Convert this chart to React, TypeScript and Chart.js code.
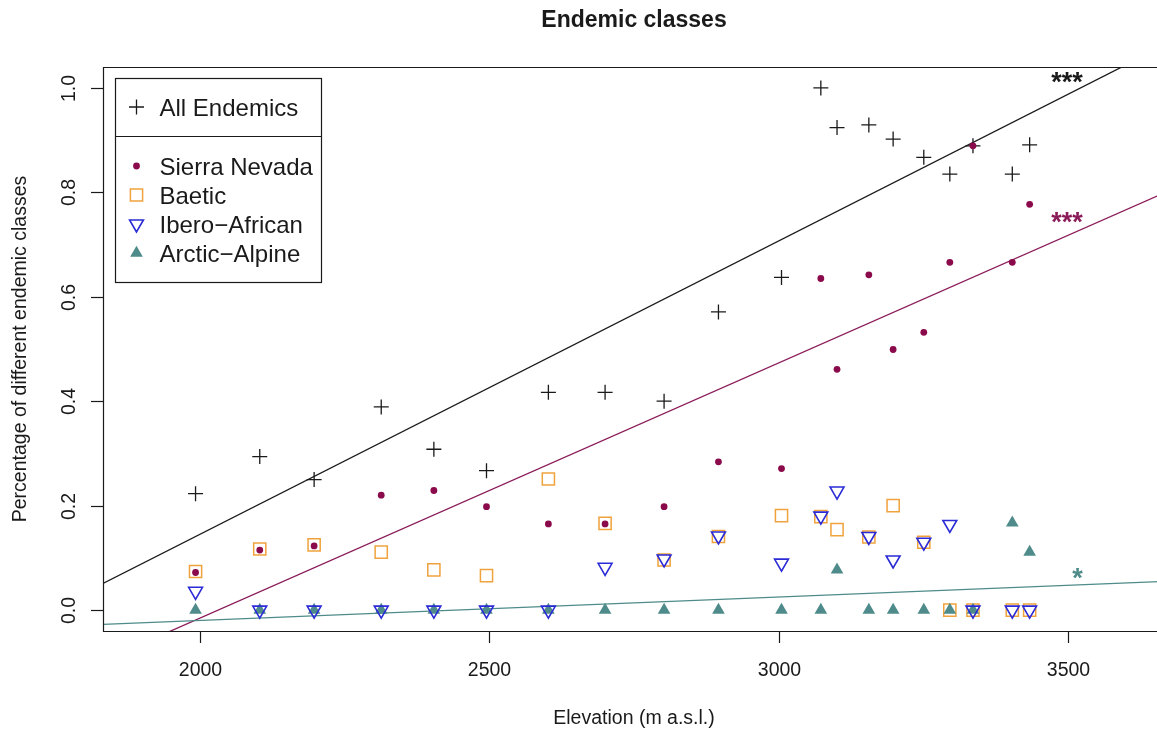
import React, { useEffect, useRef } from "react";
import { Chart, registerables } from "chart.js";

Chart.register(...registerables);

// ---- data ----
const elevation = [1992, 2103, 2197, 2313, 2404, 2495, 2602, 2700, 2802, 2896, 3005, 3073, 3101, 3156, 3198, 3251, 3296, 3336, 3404, 3434];
const allEndemics = [0.223, 0.294, 0.25, 0.389, 0.308, 0.267, 0.417, 0.417, 0.4, 0.571, 0.637, 1.0, 0.924, 0.929, 0.902, 0.867, 0.835, 0.889, 0.835, 0.891];
const sierraNevada = [0.072, 0.115, 0.123, 0.22, 0.229, 0.198, 0.165, 0.165, 0.198, 0.284, 0.271, 0.635, 0.461, 0.642, 0.499, 0.532, 0.666, 0.889, 0.666, 0.777];
const baetic = [0.074, 0.117, 0.125, 0.111, 0.077, 0.066, 0.251, 0.166, 0.096, 0.141, 0.181, 0.179, 0.154, 0.14, 0.2, 0.13, 0, 0, 0, 0];
const iberoAfrican = [0.036, 0, 0, 0, 0, 0, 0, 0.082, 0.098, 0.142, 0.09, 0.18, 0.228, 0.141, 0.096, 0.13, 0.164, 0, 0, 0];
const arcticAlpine = [0, 0, 0, 0, 0, 0, 0, 0, 0, 0, 0, 0, 0.077, 0, 0, 0, 0, 0, 0.167, 0.111];

// regression line end points
const fitX = [1832, 3668];
const fitAll = [0.0512, 1.0819];
const fitSierra = [-0.0972, 0.7997];
const fitArctic = [-0.0274, 0.0549];

// axes
const xRange = [1832, 3668];
const yRange = [-0.04, 1.04];
const xTicks = [2000, 2500, 3000, 3500];
const xTickLabels = ["2000", "2500", "3000", "3500"];
const yTicks = [0, 0.2, 0.4, 0.6, 0.8, 1.0];
const yTickLabels = ["0.0", "0.2", "0.4", "0.6", "0.8", "1.0"];

// significance labels
const sigX = 3526;
const sigY = [1.018, 0.75, 0.0686];
const sigText = ["***", "***", "*"];

const seriesNames = ["All Endemics", "Sierra Nevada", "Baetic", "Ibero\u2212African", "Arctic\u2212Alpine"];

const C_BLACK = "#1a1a1a";
const C_SIERRA = "#8B0A4B";
const C_SIERRA_LINE = "#8B1C5A";
const C_BAETIC = "#F0A23C";
const C_IBERO = "#2A2AD6";
const C_ARCTIC = "#4E8B8A";
const FONT = "'Liberation Sans', Arial, Helvetica, sans-serif";

const pts = (ys: number[]) => ys.map((y, i) => ({ x: elevation[i], y }));
const linePts = (ys: number[]) => ys.map((y, i) => ({ x: fitX[i], y }));

function drawMarker(ctx: CanvasRenderingContext2D, kind: string, x: number, y: number) {
  ctx.save();
  ctx.beginPath();
  if (kind === "cross") {
    const r = 7.5;
    ctx.moveTo(x - r, y); ctx.lineTo(x + r, y);
    ctx.moveTo(x, y - r); ctx.lineTo(x, y + r);
    ctx.strokeStyle = C_BLACK; ctx.lineWidth = 1.3; ctx.stroke();
  } else if (kind === "dot") {
    ctx.arc(x, y, 3.4, 0, Math.PI * 2);
    ctx.fillStyle = C_SIERRA; ctx.fill();
  } else if (kind === "square") {
    const s = 6.1;
    ctx.rect(x - s, y - s, 2 * s, 2 * s);
    ctx.strokeStyle = C_BAETIC; ctx.lineWidth = 1.5; ctx.stroke();
  } else if (kind === "down") {
    const r = 8;
    for (let k = 0; k < 3; k++) {
      const a = Math.PI + k * (2 * Math.PI / 3);
      const px = x + Math.sin(a) * r, py = y - Math.cos(a) * r;
      if (k === 0) ctx.moveTo(px, py); else ctx.lineTo(px, py);
    }
    ctx.closePath();
    ctx.strokeStyle = C_IBERO; ctx.lineWidth = 1.6; ctx.stroke();
  } else if (kind === "up") {
    const r = 7.3;
    for (let k = 0; k < 3; k++) {
      const a = k * (2 * Math.PI / 3);
      const px = x + Math.sin(a) * r, py = y - Math.cos(a) * r;
      if (k === 0) ctx.moveTo(px, py); else ctx.lineTo(px, py);
    }
    ctx.closePath();
    ctx.fillStyle = C_ARCTIC; ctx.fill();
  }
  ctx.restore();
}

const rPlotPlugin = {
  id: "rPlot",
  afterDraw(chart: any) {
    const ctx: CanvasRenderingContext2D = chart.ctx;
    const { left, right, top, bottom } = chart.chartArea;
    const xs = chart.scales.x;
    const ys = chart.scales.y;
    ctx.save();
    // frame
    ctx.strokeStyle = C_BLACK;
    ctx.lineWidth = 1.2;
    ctx.beginPath();
    ctx.rect(Math.round(left) + 0.5, Math.round(top) + 0.5, Math.round(right - left), Math.round(bottom - top));
    ctx.stroke();

    // x ticks
    ctx.fillStyle = C_BLACK;
    ctx.font = `19.5px ${FONT}`;
    ctx.textAlign = "center";
    ctx.textBaseline = "alphabetic";
    xTicks.forEach((v, i) => {
      const px = Math.round(xs.getPixelForValue(v)) + 0.5;
      ctx.beginPath();
      ctx.moveTo(px, bottom);
      ctx.lineTo(px, bottom + 12);
      ctx.stroke();
      ctx.fillText(xTickLabels[i], px, 676);
    });
    // y ticks
    yTicks.forEach((v, i) => {
      const py = Math.round(ys.getPixelForValue(v)) + 0.5;
      ctx.beginPath();
      ctx.moveTo(left, py);
      ctx.lineTo(left - 12, py);
      ctx.stroke();
      ctx.save();
      ctx.translate(75, py);
      ctx.rotate(-Math.PI / 2);
      ctx.fillText(yTickLabels[i], 0, 0);
      ctx.restore();
    });

    // axis titles
    ctx.fillText("Elevation (m a.s.l.)", (left + right) / 2, 724);
    ctx.save();
    ctx.translate(26, (top + bottom) / 2);
    ctx.rotate(-Math.PI / 2);
    ctx.fillText("Percentage of different endemic classes", 0, 0);
    ctx.restore();

    // main title
    ctx.font = `bold 23px ${FONT}`;
    ctx.fillText("Endemic classes", (left + right) / 2, 27);

    // significance stars
    const sigColors = [C_BLACK, C_SIERRA_LINE, C_ARCTIC];
    ctx.font = `bold 27px ${FONT}`;
    ctx.textAlign = "right";
    sigText.forEach((t, i) => {
      ctx.fillStyle = sigColors[i];
      ctx.fillText(t, xs.getPixelForValue(sigX), ys.getPixelForValue(sigY[i]) + 13);
    });

    // legend
    const lx0 = 115.5, lx1 = 321.5, ly0 = 78.5, lsep = 136.5, ly1 = 282.5;
    ctx.fillStyle = "#ffffff";
    ctx.fillRect(lx0, ly0, lx1 - lx0, ly1 - ly0);
    ctx.strokeStyle = C_BLACK;
    ctx.lineWidth = 1.2;
    ctx.strokeRect(lx0, ly0, lx1 - lx0, ly1 - ly0);
    ctx.beginPath();
    ctx.moveTo(lx0, lsep);
    ctx.lineTo(lx1, lsep);
    ctx.stroke();
    const kinds = ["cross", "dot", "square", "down", "up"];
    const baselines = [116, 175, 204, 233, 262];
    ctx.font = `24px ${FONT}`;
    ctx.textAlign = "left";
    ctx.fillStyle = C_BLACK;
    seriesNames.forEach((name, i) => {
      drawMarker(ctx, kinds[i], 136.5, baselines[i] - 9);
      ctx.fillStyle = C_BLACK;
      ctx.fillText(name, 159.5, baselines[i]);
    });
    ctx.restore();
  },
};

export default function App() {
  const canvasRef = useRef<HTMLCanvasElement | null>(null);

  useEffect(() => {
    const canvas = canvasRef.current;
    if (!canvas) return;
    const chart = new Chart(canvas, {
      type: "scatter",
      data: {
        datasets: [
          {
            type: "line",
            label: "fit all",
            data: linePts(fitAll),
            borderColor: C_BLACK,
            borderWidth: 1.3,
            pointRadius: 0,
            fill: false,
            order: 7,
          } as any,
          {
            type: "line",
            label: "fit sierra",
            data: linePts(fitSierra),
            borderColor: C_SIERRA_LINE,
            borderWidth: 1.3,
            pointRadius: 0,
            fill: false,
            order: 6,
          } as any,
          {
            type: "line",
            label: "fit arctic",
            data: linePts(fitArctic),
            borderColor: C_ARCTIC,
            borderWidth: 1.3,
            pointRadius: 0,
            fill: false,
            order: 5,
          } as any,
          {
            label: seriesNames[0],
            data: pts(allEndemics),
            pointStyle: "cross",
            pointRadius: 7.5,
            pointBorderColor: C_BLACK,
            pointBackgroundColor: C_BLACK,
            pointBorderWidth: 1.3,
            order: 4,
          },
          {
            label: seriesNames[2],
            data: pts(baetic),
            pointStyle: "rect",
            pointRadius: 8.6,
            pointBorderColor: C_BAETIC,
            pointBackgroundColor: "rgba(0,0,0,0)",
            pointBorderWidth: 1.5,
            order: 3,
          },
          {
            label: seriesNames[4],
            data: pts(arcticAlpine),
            pointStyle: "triangle",
            pointRadius: 7.3,
            pointBorderColor: C_ARCTIC,
            pointBackgroundColor: C_ARCTIC,
            pointBorderWidth: 0,
            order: 2,
          },
          {
            label: seriesNames[3],
            data: pts(iberoAfrican),
            pointStyle: "triangle",
            pointRotation: 180,
            pointRadius: 8,
            pointBorderColor: C_IBERO,
            pointBackgroundColor: "rgba(0,0,0,0)",
            pointBorderWidth: 1.6,
            order: 1,
          },
          {
            label: seriesNames[1],
            data: pts(sierraNevada),
            pointStyle: "circle",
            pointRadius: 3.4,
            pointBorderColor: C_SIERRA,
            pointBackgroundColor: C_SIERRA,
            pointBorderWidth: 0,
            order: 0,
          },
        ],
      },
      options: {
        responsive: false,
        animation: false,
        events: [],
        layout: { padding: { left: 103, top: 67, right: 1180 - 1165, bottom: 729 - 631 } },
        plugins: {
          legend: { display: false },
          tooltip: { enabled: false },
          title: { display: false },
        },
        scales: {
          x: { type: "linear", min: xRange[0], max: xRange[1], display: false },
          y: { type: "linear", min: yRange[0], max: yRange[1], display: false },
        },
      },
      plugins: [rPlotPlugin],
    });
    return () => chart.destroy();
  }, []);

  return (
    <div style={{ position: "fixed", left: 0, top: 0, width: 1157, height: 729, overflow: "hidden", background: "#ffffff" }}>
      <canvas ref={canvasRef} width={1180} height={729} style={{ display: "block" }} />
    </div>
  );
}
